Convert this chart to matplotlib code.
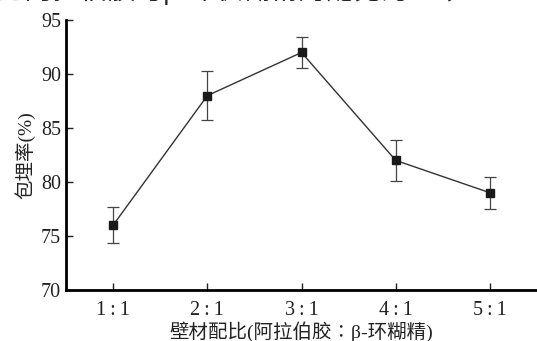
import matplotlib.pyplot as plt

plt.rcParams['font.family'] = ['Liberation Serif', 'Noto Sans CJK SC']

ratios = ["1\u2009:\u20091", "2\u2009:\u20091", "3\u2009:\u20091", "4\u2009:\u20091", "5\u2009:\u20091"]
rate = [76, 88, 92, 82, 79]
err = [1.7, 2.3, 1.4, 1.9, 1.5]

fig = plt.figure(figsize=(5.37, 3.41), dpi=100)
ax = fig.add_axes([0.123, 0.15, 0.877, 0.791])

x = list(range(1, len(ratios) + 1))
ax.errorbar(x, rate, yerr=err, color="#333333", lw=1.0, marker="s", ms=6,
            mfc="#1a1a1a", mec="#1a1a1a", ecolor="#444444", elinewidth=0.9,
            capsize=4, capthick=0.9)

ax.set_xlim(0.5, 5.5)
ax.set_ylim(70, 95)
ax.set_xticks(x)
ax.set_xticklabels(ratios)
ax.set_yticks([70, 75, 80, 85, 90, 95])
ax.tick_params(direction="in", length=5, width=1, labelsize=14.5, colors="#222222")
ax.tick_params(axis="x", pad=8)

for side in ["top", "right"]:
    ax.spines[side].set_visible(False)
ax.spines["left"].set_linewidth(2)
ax.spines["bottom"].set_linewidth(2)

ax.set_ylabel("包埋率(%)", fontsize=14, labelpad=4, color="#222222")
ax.set_xlabel("壁材配比(阿拉伯胶∶β-环糊精)", fontsize=14, labelpad=1, color="#222222")

# caption line running off the top edge
fig.text(-0.005, 0.985, "之阿拉伯胶与β-环状糊精的配比为3:1，", fontsize=20,
         va="bottom", ha="left", color="#222222")

fig.savefig("out.png", dpi=100)
